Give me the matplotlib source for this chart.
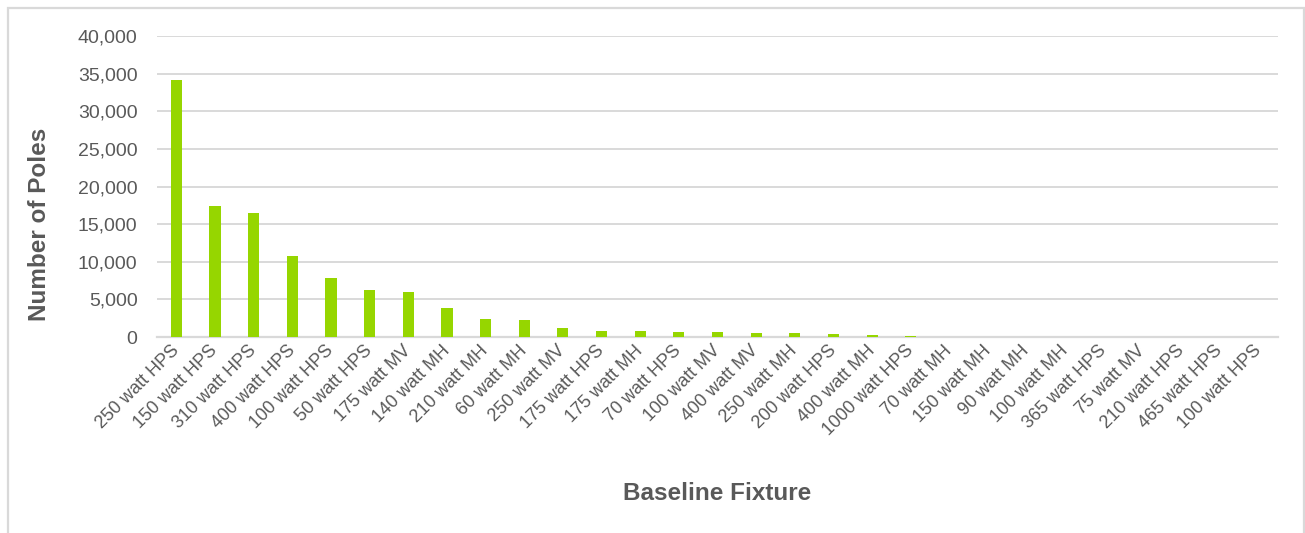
import matplotlib
matplotlib.use("Agg")
import matplotlib.pyplot as plt
from matplotlib.patches import Rectangle
from matplotlib.ticker import FuncFormatter

# fixture types, sorted by count
fixtures = [
    "250 watt HPS", "150 watt HPS", "310 watt HPS", "400 watt HPS",
    "100 watt HPS", "50 watt HPS", "175 watt MV", "140 watt MH",
    "210 watt MH", "60 watt MH", "250 watt MV", "175 watt HPS",
    "175 watt MH", "70 watt HPS", "100 watt MV", "400 watt MV",
    "250 watt MH", "200 watt HPS", "400 watt MH", "1000 watt HPS",
    "70 watt MH", "150 watt MH", "90 watt MH", "100 watt MH",
    "365 watt HPS", "75 watt MV", "210 watt HPS", "465 watt HPS",
    "100 watt HPS",
]
poles = [
    34200, 17400, 16500, 10700, 7800, 6300, 6000, 3800,
    2400, 2200, 1250, 850, 850, 700, 700, 550,
    550, 400, 250, 90, 60, 50, 40, 30,
    20, 15, 10, 5, 3,
]
y_ticks = [0, 5000, 10000, 15000, 20000, 25000, 30000, 35000, 40000]

plt.rcParams["font.family"] = ["Liberation Sans", "DejaVu Sans"]
text_col = "#595959"
grid_col = "#D9D9D9"

W, H = 1305, 533
fig = plt.figure(figsize=(W / 100, H / 100), dpi=100)
ax = fig.add_axes([157 / W, 1 - 337 / H, (1278 - 157) / W, (337 - 36) / H])

x = list(range(len(fixtures)))
ax.bar(x, poles, width=0.29, color="#96D600", zorder=3)

ax.set_xlim(-0.5, len(fixtures) - 0.5)
ax.set_ylim(0, 40000)
ax.set_yticks(y_ticks)
ax.yaxis.set_major_formatter(FuncFormatter(lambda v, p: f"{int(v):,}"))
ax.grid(axis="y", color=grid_col, linewidth=1.4, zorder=0)
ax.set_axisbelow(True)

for s in ["top", "right", "left"]:
    ax.spines[s].set_visible(False)
ax.spines["bottom"].set_color(grid_col)
ax.spines["bottom"].set_linewidth(1.6)

ax.tick_params(axis="y", length=0, pad=14, labelsize=14, labelcolor=text_col)
ax.tick_params(axis="x", length=0, pad=8, labelsize=13, labelcolor=text_col)
ax.set_xticks(x)
ax.set_xticklabels(fixtures, rotation=45, ha="right", va="center",
                   rotation_mode="anchor")

fig.text(40 / W, 1 - 224 / H, "Number of Poles", rotation=90, ha="center",
         va="center", fontsize=17.5, fontweight="bold", color=text_col)
fig.text(717 / W, 1 - 494 / H, "Baseline Fixture", ha="center", va="center",
         fontsize=17.5, fontweight="bold", color=text_col)

# light frame around the chart area
fig.patches.append(Rectangle((8 / W, -0.1), (1304 - 8) / W, 1.1 - 8 / H,
                             transform=fig.transFigure, fill=False,
                             edgecolor=grid_col, linewidth=1.6))

fig.savefig("out.png", dpi=100)
